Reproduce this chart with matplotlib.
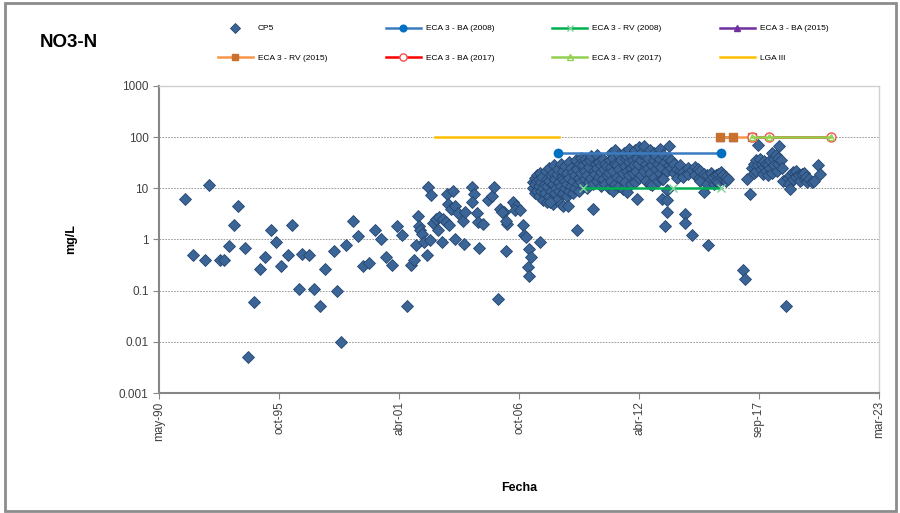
import matplotlib
matplotlib.use("Agg")
import matplotlib.pyplot as plt
import matplotlib.dates as mdates
from matplotlib import font_manager
from matplotlib.patches import Rectangle
from datetime import datetime
import numpy as np

# narrow font if available (the original uses Arial Narrow)
fams = ['Liberation Sans', 'DejaVu Sans']
try:
    font_manager.findfont('Liberation Sans Narrow', fallback_to_default=False)
    fams = ['Liberation Sans Narrow'] + fams
except Exception:
    pass
plt.rcParams['font.family'] = fams

# CP5 NO3-N samples (fecha as decimal year, mg/L)
cp5_fecha = [
    1991.54, 1991.90, 1992.45, 1992.64, 1993.14, 1993.32, 1993.55, 1993.78, 1993.96, 1994.28,
    1994.41, 1994.69, 1994.96, 1995.19, 1995.46, 1995.69, 1995.92, 1996.24, 1996.42, 1996.74,
    1996.88, 1997.20, 1997.43, 1997.70, 1997.93, 1998.34, 1998.48, 1998.66, 1998.89, 1999.21,
    1999.43, 1999.66, 1999.94, 2000.21, 2000.48, 2000.71, 2000.99, 2001.21, 2001.44, 2001.67,
    2001.85, 2001.99, 2002.08, 2002.17, 2002.23, 2002.26, 2002.35, 2002.44, 2002.58, 2002.63,
    2002.76, 2002.72, 2002.85, 2002.99, 2003.08, 2003.12, 2003.31, 2003.45, 2003.27, 2003.49,
    2003.56, 2003.67, 2003.58, 2003.77, 2003.86, 2003.86, 2003.99, 2004.22, 2004.31, 2004.27,
    2004.63, 2004.73, 2004.63, 2004.86, 2004.91, 2005.14, 2004.95, 2005.37, 2005.55, 2005.64,
    2005.82, 2005.91, 2006.10, 2006.22, 2006.19, 2005.99, 2006.17, 2006.51, 2006.66, 2006.58,
    2006.84, 2006.96, 2007.01, 2007.08, 2007.23, 2007.34, 2007.19, 2007.24, 2007.74,
    # 2007 - 2012
    2007.42, 2007.44, 2007.51, 2007.53, 2007.50, 2007.60, 2007.62, 2007.58, 2007.69, 2007.71,
    2007.67, 2007.78, 2007.80, 2007.76, 2007.87, 2007.89, 2007.85, 2007.97, 2007.95, 2007.99,
    2008.06, 2008.08, 2008.04, 2008.15, 2008.13, 2008.17, 2008.24, 2008.26, 2008.33, 2008.31,
    2008.35, 2008.42, 2008.44, 2008.40, 2008.51, 2008.49, 2008.53, 2008.60, 2008.62, 2008.58,
    2008.70, 2008.68, 2008.72, 2008.70, 2008.79, 2008.81, 2008.77, 2008.88, 2008.86, 2008.90,
    2008.97, 2008.99, 2008.95, 2009.06, 2009.04, 2009.08, 2009.15, 2009.17, 2009.24, 2009.22,
    2009.26, 2009.34, 2009.32, 2009.36, 2009.43, 2009.45, 2009.41, 2009.52, 2009.50, 2009.54,
    2009.61, 2009.63, 2009.59, 2009.70, 2009.72, 2009.79, 2009.77, 2009.81, 2009.88, 2009.90,
    2009.86, 2009.97, 2009.99, 2010.06, 2010.04, 2010.08, 2010.16, 2010.14, 2010.18, 2010.25,
    2010.27, 2010.34, 2010.32, 2010.36, 2010.43, 2010.45, 2010.52, 2010.50, 2010.54, 2010.61,
    2010.63, 2010.70, 2010.68, 2010.72, 2010.79, 2010.81, 2010.89, 2010.87, 2010.91, 2010.98,
    2010.96, 2011.00, 2011.07, 2011.09, 2011.05, 2011.16, 2011.14, 2011.18, 2011.25, 2011.27,
    2011.34, 2011.32, 2011.36, 2011.43, 2011.45, 2011.53, 2011.51, 2011.55, 2011.62, 2011.60,
    2011.64, 2011.71, 2011.73, 2011.69, 2011.80, 2011.78, 2011.82, 2011.89, 2011.91, 2011.87,
    2011.98, 2012.00, 2012.07, 2012.05, 2012.09, 2012.16, 2012.14, 2012.18, 2012.25, 2012.23,
    2012.27, 2008.19, 2008.77, 2009.00,
    # 2012 - 2016
    2012.35, 2012.37, 2012.33, 2012.48, 2012.48, 2012.57, 2012.59, 2012.55, 2012.67, 2012.65,
    2012.76, 2012.78, 2012.74, 2012.85, 2012.85, 2012.94, 2012.96, 2012.92, 2013.03, 2013.05,
    2013.12, 2013.10, 2013.21, 2013.23, 2013.19, 2013.30, 2013.30, 2013.28, 2013.35, 2013.37,
    2013.44, 2013.42, 2013.53, 2013.53, 2013.53, 2013.51, 2013.62, 2013.64, 2013.60, 2013.71,
    2013.73, 2013.85, 2013.83, 2013.99, 2014.01, 2014.13, 2014.11, 2014.26, 2014.28, 2014.35,
    2014.35, 2014.49, 2014.51, 2014.68, 2014.66, 2014.81, 2014.83, 2014.95, 2014.97, 2015.04,
    2015.06, 2015.22, 2015.20, 2015.36, 2015.34, 2015.41, 2015.55, 2015.53, 2015.64, 2015.66,
    2015.77, 2015.75, 2015.86, 2015.88, 2016.00, 2016.02, 2016.09, 2016.07, 2016.23, 2016.21,
    2016.32,
    # 2017 - 2020
    2017.00, 2017.09, 2017.20, 2017.34, 2017.41, 2017.50, 2017.52, 2017.59, 2017.61, 2017.70,
    2017.68, 2017.78, 2017.80, 2017.87, 2017.89, 2017.96, 2017.94, 2018.05, 2018.07, 2018.14,
    2018.16, 2018.23, 2018.21, 2018.31, 2018.33, 2018.42, 2018.40, 2018.51, 2018.53, 2018.60,
    2018.58, 2018.66, 2018.74, 2018.76, 2018.84, 2018.96, 2019.06, 2019.08, 2019.14, 2019.16,
    2019.30, 2019.28, 2019.42, 2019.44, 2019.56, 2019.58, 2019.68, 2019.79, 2019.81, 2019.88,
    2019.90, 2019.99, 2020.15, 2020.25, 2020.42, 2020.50,
]
cp5_mgl = [
    6.3, 0.5, 0.4, 11.5, 0.4, 0.4, 0.75, 1.9, 4.6, 0.67,
    0.005, 0.06, 0.27, 0.45, 1.5, 0.9, 0.3, 0.5, 1.9, 0.11,
    0.52, 0.5, 0.11, 0.05, 0.27, 0.6, 0.1, 0.01, 0.78, 2.3,
    1.15, 0.31, 0.35, 1.55, 1.0, 0.45, 0.32, 1.85, 1.25, 0.05,
    0.32, 0.4, 0.78, 2.9, 1.85, 1.55, 1.3, 0.9, 0.5, 10.5,
    7.3, 0.97, 2.1, 2.5, 1.55, 2.8, 2.5, 2.2, 0.88, 7.6,
    5.0, 4.0, 1.9, 8.9, 4.6, 1.0, 3.3, 2.35, 3.5, 0.82,
    10.8, 7.6, 5.5, 3.3, 2.2, 2.0, 0.69, 5.8, 7.2, 10.7,
    0.07, 4.0, 3.4, 2.0, 0.6, 3.5, 2.25, 5.4, 4.6, 3.7,
    3.7, 1.9, 1.2, 1.1, 0.66, 0.45, 0.29, 0.19, 0.9,
    # 2007 - 2012
    10, 13, 8, 12, 16, 9, 14, 18, 7, 11,
    15, 9, 13, 20, 6, 10, 17, 8, 12, 22,
    5.5, 11, 15, 7, 14, 25, 9, 18, 5, 12,
    20, 8, 15, 28, 6, 10, 19, 9, 13, 24,
    5, 11, 17, 30, 8, 15, 22, 10, 14, 27,
    7, 12, 20, 9, 16, 32, 11, 25, 8, 14,
    21, 10, 18, 35, 1.5, 12, 24, 9, 16, 30,
    13, 20, 40, 11, 28, 15, 22, 38, 10, 18,
    32, 13, 26, 16, 35, 42, 4.0, 12, 22, 19,
    30, 14, 25, 45, 17, 33, 11, 21, 28, 15,
    38, 12, 24, 30, 18, 27, 10, 20, 35, 14,
    26, 48, 8.8, 22, 40, 12, 30, 55, 17, 28,
    11, 24, 45, 15, 35, 9.5, 20, 50, 13, 27,
    38, 8.4, 22, 42, 18, 32, 60, 12, 25, 45,
    20, 35, 13, 28, 55, 6.2, 22, 40, 16, 30,
    65, 5.3, 4.6, 4.6,
    # 2012 - 2016
    18, 35, 50, 22, 68, 14, 30, 45, 25, 40,
    12, 20, 55, 28, 11.7, 17, 35, 48, 24, 42,
    14, 30, 20, 38, 60, 15, 6.2, 26, 15, 45,
    1.8, 32, 9.4, 5.8, 3.4, 22, 66, 28, 40, 35,
    25, 30, 20, 24, 16, 22, 28, 20.6, 17, 3.2,
    2.1, 25, 19, 1.2, 23, 26, 18, 24, 16, 22,
    14, 8.4, 19, 18, 12, 0.78, 15, 20, 16.5, 12,
    18, 14, 19, 13, 16.5, 21, 15, 18, 14.2, 17,
    15,
    # 2017 - 2020
    0.25, 0.17, 15, 7.6, 25, 30, 20, 35, 22, 71,
    28, 38, 24, 30, 19, 26, 34, 22, 30, 28,
    18, 25, 35, 48, 20, 38, 28, 45, 22, 30,
    40, 68, 35, 25, 14.2, 0.05, 16, 12, 9.8, 18,
    20.6, 15, 22, 17, 18, 14, 19.2, 20, 15, 17,
    13, 15.3, 13.2, 14, 28, 19.2,
]

# reference limits (decimal year, mg/L)
eca_ba_2008_fecha = [2008.56, 2016.00]
eca_ba_2008_mgl = [50, 50]
eca_rv_2008_fecha = [2009.70, 2013.80, 2016.00]
eca_rv_2008_mgl = [10, 10, 10]
eca_ba_2015_fecha = [2015.95, 2016.55]
eca_ba_2015_mgl = [100, 100]
eca_rv_2015_fecha = [2015.95, 2016.55, 2017.41]
eca_rv_2015_mgl = [100, 100, 100]
eca_ba_2017_fecha = [2017.41, 2018.19, 2021.02]
eca_ba_2017_mgl = [100, 100, 100]
eca_rv_2017_fecha = [2017.41, 2018.19, 2021.02]
eca_rv_2017_mgl = [100, 100, 100]
lga_fecha = [2002.95, 2008.61]
lga_mgl = [100, 100]

meses = ['ene', 'feb', 'mar', 'abr', 'may', 'jun', 'jul', 'ago', 'sep', 'oct', 'nov', 'dic']


def to_num(years):
    """decimal year -> matplotlib date number"""
    out = []
    for y in years:
        yi = int(y)
        out.append(mdates.date2num(datetime(yi, 1, 1)) + (y - yi) * 365.25)
    return np.array(out)


fig = plt.figure(figsize=(9, 5.13), dpi=100)
ax = fig.add_axes([0.1767, 0.2339, 0.80, 0.5985])

ax.plot(to_num(cp5_fecha), cp5_mgl, linestyle='none', marker='D', markersize=5.8,
        markerfacecolor='#3B6596', markeredgecolor='#25466F', markeredgewidth=0.6,
        label='CP5', zorder=3)

ax.plot(to_num(lga_fecha), lga_mgl, color='#FFC000', lw=1.8, label='LGA III', zorder=4)
ax.plot(to_num(eca_ba_2008_fecha), eca_ba_2008_mgl, color='#3C7BC0', lw=1.8, marker='o',
        markersize=6, markerfacecolor='#0070C0', markeredgecolor='#0070C0',
        label='ECA 3 - BA (2008)', zorder=4)
ax.plot(to_num(eca_rv_2008_fecha), eca_rv_2008_mgl, color='#00B050', lw=1.8, marker='x',
        markersize=6, markeredgecolor='#7ED39A', label='ECA 3 - RV (2008)', zorder=4)
ax.plot(to_num(eca_ba_2015_fecha), eca_ba_2015_mgl, color='#7030A0', lw=1.8, marker='^',
        markersize=6, label='ECA 3 - BA (2015)', zorder=4)
ax.plot(to_num(eca_rv_2015_fecha), eca_rv_2015_mgl, color='#F79646', lw=1.8, marker='s',
        markersize=5.5, markerfacecolor='#C8702E', markeredgecolor='#C8702E',
        label='ECA 3 - RV (2015)', zorder=5)
ax.plot(to_num(eca_ba_2017_fecha), eca_ba_2017_mgl, color='#FF0000', lw=1.8, marker='o',
        markersize=6.5, markerfacecolor='white', markeredgecolor='#F05050',
        label='ECA 3 - BA (2017)', zorder=5)
ax.plot(to_num(eca_rv_2017_fecha), eca_rv_2017_mgl, color='#92D050', lw=1.8, marker='^',
        markersize=5, markerfacecolor='none', markeredgecolor='#92D050',
        label='ECA 3 - RV (2017)', zorder=6)

# axes formatting
ax.set_yscale('log')
ax.set_ylim(0.001, 1000)
ax.set_yticks([0.001, 0.01, 0.1, 1, 10, 100, 1000])
ax.set_yticklabels(['0.001', '0.01', '0.1', '1', '10', '100', '1000'])
ax.yaxis.set_minor_locator(matplotlib.ticker.NullLocator())

x0 = mdates.date2num(datetime(1990, 5, 10))
ticks = [x0 + 2000 * k for k in range(7)]
ax.set_xlim(ticks[0], ticks[-1])
ax.set_xticks(ticks)
labels = []
for t in ticks:
    d = mdates.num2date(t)
    labels.append(f"{meses[d.month - 1]}-{d.strftime('%y')}")
ax.set_xticklabels(labels, rotation=90, fontsize=8.5, color='#404040')
ax.tick_params(axis='y', labelsize=8.5, labelcolor='#404040', length=4, color='#868686')
ax.tick_params(axis='x', length=4, color='#868686', pad=2)

ax.grid(axis='y', which='major', linestyle=(0, (2, 1.5)), color='#8C8C8C', lw=0.6)
ax.set_axisbelow(True)
for s in ['top', 'right']:
    ax.spines[s].set_color('#D0D0D0')
    ax.spines[s].set_linewidth(1.0)
for s in ['left', 'bottom']:
    ax.spines[s].set_color('#868686')
    ax.spines[s].set_linewidth(1.5)

ax.set_ylabel('mg/L', fontsize=9, fontweight='bold', labelpad=30)
ax.set_xlabel('Fecha', fontsize=9, fontweight='bold', labelpad=30)

fig.text(0.044, 0.918, 'NO3-N', fontsize=13.5, fontweight='bold', ha='left', va='center')

# legend, row-wise order in 4 columns
h, l = ax.get_legend_handles_labels()
order = ['CP5', 'ECA 3 - RV (2015)', 'ECA 3 - BA (2008)', 'ECA 3 - BA (2017)',
         'ECA 3 - RV (2008)', 'ECA 3 - RV (2017)', 'ECA 3 - BA (2015)', 'LGA III']
hd = dict(zip(l, h))
leg = fig.legend([hd[k] for k in order], order, ncol=4, loc='upper left',
                 bbox_to_anchor=(0.242, 0.952), frameon=False, fontsize=6,
                 handlelength=4.2, handletextpad=0.6, columnspacing=7.0,
                 labelspacing=2.6, markerscale=0.8, borderpad=0, borderaxespad=0)

# outer chart border
fig.patches.append(Rectangle((0.006, 0.004), 0.99, 0.99, transform=fig.transFigure,
                             fill=False, edgecolor='#8C8C8C', lw=2.0))

fig.savefig('out.png', dpi=100)
